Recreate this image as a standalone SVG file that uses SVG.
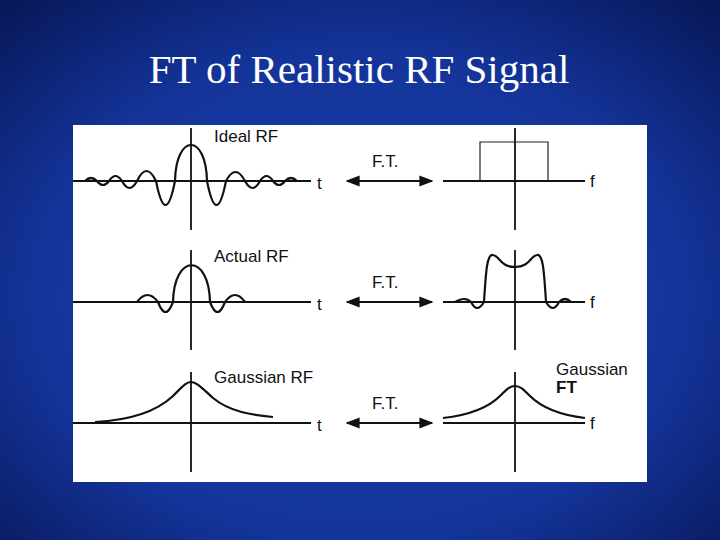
<svg xmlns="http://www.w3.org/2000/svg" width="720" height="540" viewBox="0 0 720 540">
<defs>
<radialGradient id="bg" cx="50%" cy="55%" r="75%">
<stop offset="0" stop-color="#1c42a8"/><stop offset="0.6" stop-color="#14349a"/><stop offset="1" stop-color="#071654"/>
</radialGradient>
<marker id="ah" viewBox="0 0 10 10" refX="9" refY="5" markerWidth="7" markerHeight="7" orient="auto-start-reverse"><path d="M0,1 L10,5 L0,9 z" fill="#111"/></marker>
</defs>
<style>
.ax{stroke:#111;stroke-width:1.8;fill:none}
.cv{stroke:#111;stroke-width:2.2;fill:none}
.thin{stroke:#222;stroke-width:1.2;fill:none}
.lb{font-family:"Liberation Sans",Arial,sans-serif;font-size:17px;fill:#111}
.ar{stroke:#111;stroke-width:2;marker-start:url(#ah);marker-end:url(#ah)}
</style>
<rect width="720" height="540" fill="url(#bg)"/>
<text x="359" y="83" text-anchor="middle" font-family="Liberation Serif,'Times New Roman',serif" font-size="41" fill="#fff">FT of Realistic RF Signal</text>
<rect x="73" y="125" width="574" height="357" fill="#fff"/>
<g id="ideal-rf">
<line class="ax" x1="73" y1="181" x2="311" y2="181"/><line class="ax" x1="191" y1="128" x2="191" y2="230"/>
<path class="cv" d="M85,181 Q91,175 97,181 Q103,189 109,181 Q115.5,171 122,181 Q129.5,195 137,181 Q146.5,161 156,181 Q165.5,229 175,181 C176,133 206,133 207,181 Q216.5,229 226,181 Q235.5,163 245,181 Q252.5,195 260,181 Q266.5,171 273,181 Q279,189 285,181 Q291,175 297,181"/>
<text class="lb" x="214" y="142">Ideal RF</text><text class="lb" x="317" y="189" font-size="19">t</text>
</g>
<g id="actual-rf">
<line class="ax" x1="73" y1="302" x2="311" y2="302"/><line class="ax" x1="191" y1="250" x2="191" y2="350"/>
<path class="cv" d="M73,302 L137,302 Q147.5,288 158,302 Q165.5,322 173,302 C174,253 209,253 210,302 Q217.5,322 225,302 Q235,288 245,302"/>
<text class="lb" x="214" y="262">Actual RF</text><text class="lb" x="317" y="310" font-size="19">t</text>
</g>
<g id="gaussian-rf">
<line class="ax" x1="73" y1="423" x2="311" y2="423"/><line class="ax" x1="191" y1="372" x2="191" y2="472"/>
<path class="cv" d="M95,422 C135,420 158,410 173,396 C182,387 186,382 191,382 C197,382 203,389 213,398 C230,412 252,415 273,417"/>
<text class="lb" x="214" y="383">Gaussian RF</text><text class="lb" x="317" y="431" font-size="19">t</text>
</g>
<g id="ideal-ft">
<line class="ax" x1="443" y1="181" x2="585" y2="181"/><line class="ax" x1="515" y1="128" x2="515" y2="230"/>
<path class="thin" d="M480,181 L480,142 L548,142 L548,181"/>
<text class="lb" x="590" y="187" font-size="19">f</text>
</g>
<g id="actual-ft">
<line class="ax" x1="443" y1="302" x2="585" y2="302"/><line class="ax" x1="515" y1="250" x2="515" y2="350"/>
<path class="cv" d="M455,302 Q465,296 471,302 Q477,314 484,302 C486,270 487,254 493,255 C500,256 500,267 515,267 C530,267 530,256 537,255 C543,254 544,270 546,302 Q553,314 559,302 Q565,296 571,302"/>
<text class="lb" x="590" y="308" font-size="19">f</text>
</g>
<g id="gaussian-ft">
<line class="ax" x1="443" y1="423" x2="585" y2="423"/><line class="ax" x1="515" y1="372" x2="515" y2="472"/>
<path class="cv" d="M443,418 C470,415 488,408 500,396 C507,389 510,386 515,386 C520,386 523,389 530,396 C542,408 560,415 585,418"/>
<text class="lb" x="556" y="375">Gaussian</text><text class="lb" x="556" y="393" font-weight="bold">FT</text>
<text class="lb" x="590" y="429" font-size="19">f</text>
</g>
<g id="connectors">
<line class="ar" x1="347" y1="181" x2="432" y2="181"/><text class="lb" x="372" y="167">F.T.</text>
<line class="ar" x1="347" y1="302" x2="432" y2="302"/><text class="lb" x="372" y="288">F.T.</text>
<line class="ar" x1="347" y1="423" x2="432" y2="423"/><text class="lb" x="372" y="409">F.T.</text>
</g>
</svg>
